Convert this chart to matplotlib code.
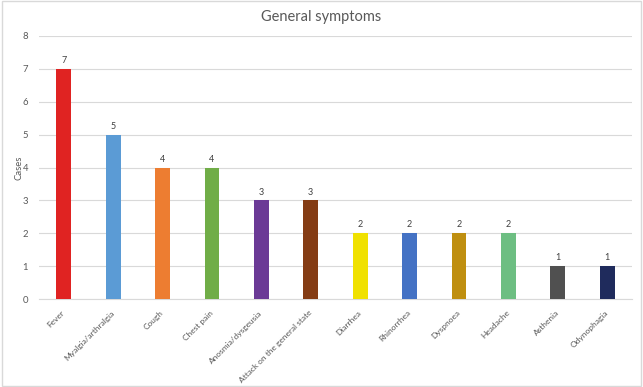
import matplotlib.pyplot as plt
from matplotlib.patches import Rectangle

plt.rcParams['font.family'] = ['Lato', 'DejaVu Sans']

symptoms = ['Fever', 'Myalgia/arthralgia', 'Cough', 'Chest pain', 'Anosmia/dysgeusia',
            'Attack on the general state', 'Diarrhea', 'Rhinorrhea', 'Dyspnoea',
            'Headache', 'Asthenia', 'Odynophagia']
cases = [7, 5, 4, 4, 3, 3, 2, 2, 2, 2, 1, 1]
colors = ['#E02322', '#5B9BD5', '#ED7D31', '#70AD47', '#6B3A96', '#843C14',
          '#F0E100', '#4472C4', '#BF8F10', '#6DBE82', '#505050', '#1F2B5C']

fig = plt.figure(figsize=(6.43, 3.87), dpi=100)
fig.patch.set_facecolor('white')
fig.add_artist(Rectangle((0.003, 0.003), 0.994, 0.994, transform=fig.transFigure,
                         fill=False, edgecolor='#D9D9D9', linewidth=1))

ax = fig.add_axes([0.0607, 0.227, 0.922, 0.68])
x = range(len(symptoms))
bars = ax.bar(x, cases, width=0.3, color=colors, zorder=3)
for b, v in zip(bars, cases):
    ax.text(b.get_x() + b.get_width() / 2, v + 0.12, str(v), ha='center', va='bottom',
            fontsize=6.5, color='#404040')

ax.set_xlim(-0.5, len(symptoms) - 0.5)
ax.set_ylim(0, 8)
ax.set_yticks(range(9))
ax.yaxis.grid(True, color='#D9D9D9', linewidth=0.8, zorder=0)
ax.set_xticks(list(x))
ax.set_xticklabels(symptoms, rotation=45, ha='right', va='center', rotation_mode='anchor',
                   fontsize=6.0, color='#595959')
ax.tick_params(axis='y', labelsize=6.8, labelcolor='#595959', length=0, pad=8)
ax.tick_params(axis='x', length=0, pad=9)
for s in ['top', 'right', 'left']:
    ax.spines[s].set_visible(False)
ax.spines['bottom'].set_color('#D9D9D9')
ax.set_ylabel('Cases', fontsize=6.8, color='#595959')
ax.yaxis.set_label_coords(-0.026, 0.5)
fig.text(0.5, 0.955, 'General symptoms', ha='center', va='center', fontsize=10.5,
         color='#595959')

fig.savefig('out.png', dpi=100)
